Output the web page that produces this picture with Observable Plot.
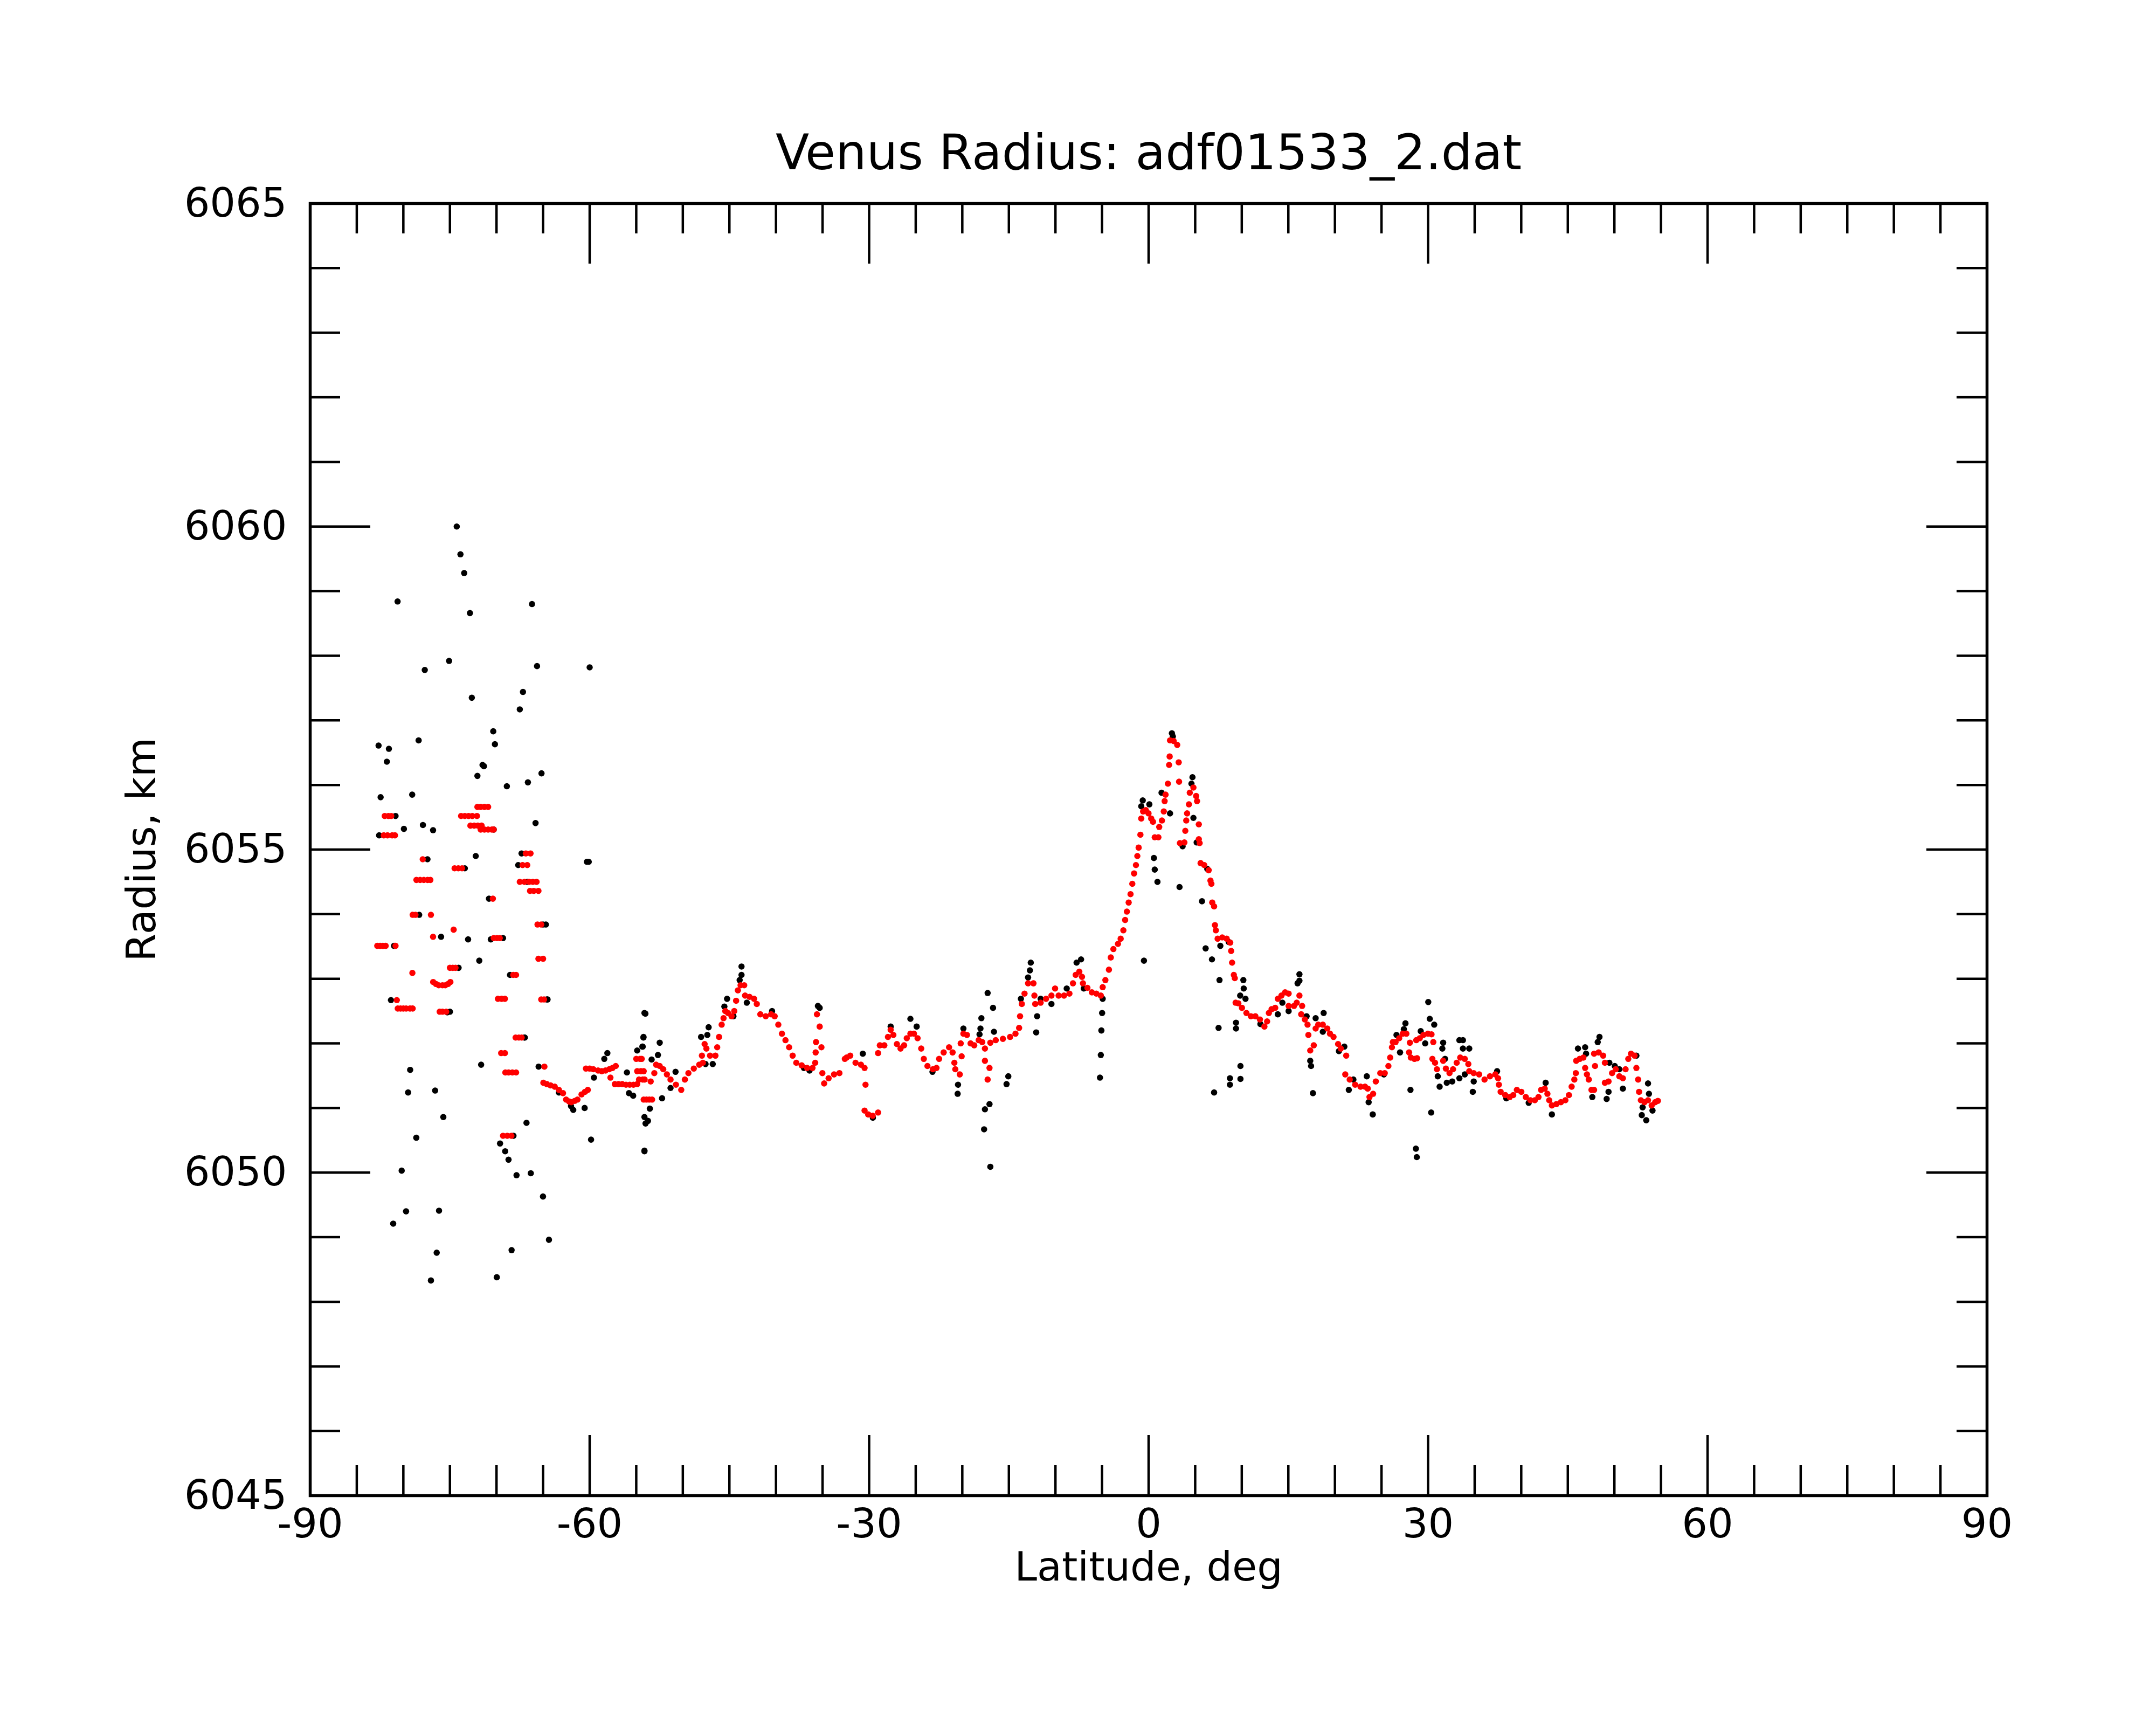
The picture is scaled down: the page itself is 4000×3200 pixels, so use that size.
<!DOCTYPE html>
<html>
<head>
<meta charset="utf-8">
<script src="https://cdn.jsdelivr.net/npm/d3@7"></script>
<script src="https://cdn.jsdelivr.net/npm/@observablehq/plot@0.6"></script>
<style>
  html, body { margin: 0; padding: 0; background: #ffffff; }
  svg { display: block; }
</style>
</head>
<body>
<div id="chart"></div>
<script>
// ---- text ----
const titleText = "Venus Radius: adf01533_2.dat";
const xLabel = "Latitude, deg";
const yLabel = "Radius, km";

// ---- ticks ----
const xMajor = [-90, -60, -30, 0, 30, 60, 90];
const xMinor = [-85,-80,-75,-70,-65,-55,-50,-45,-40,-35,-25,-20,-15,-10,-5,5,10,15,20,25,35,40,45,50,55,65,70,75,80,85];
const yMajor = [6045, 6050, 6055, 6060, 6065];
const yMinor = [6046,6047,6048,6049,6051,6052,6053,6054,6056,6057,6058,6059,6061,6062,6063,6064];

// ---- raw radius samples (black) [lat, radius] ----
const rawPoints = [
  [-74.27,6060.0],[-73.87,6059.57],[-73.47,6059.28],[-80.62,6058.84],[-72.85,6058.66],[-66.19,6058.8],
  [-75.09,6057.92],[-77.7,6057.78],[-65.65,6057.84],[-60.0,6057.82],[-72.65,6057.35],[-67.16,6057.44],
  [-67.5,6057.17],[-70.35,6056.83],[-70.17,6056.63],[-82.66,6056.61],[-81.55,6056.56],[-81.77,6056.36],
  [-78.36,6056.69],[-71.5,6056.31],[-71.35,6056.29],[-72.05,6056.14],[-68.89,6055.98],[-66.63,6056.04],[-65.17,6056.18],
  [-82.44,6055.81],[-79.05,6055.85],[-80.84,6055.52],[-79.94,6055.32],[-77.9,6055.38],[-76.81,6055.3],
  [-65.81,6055.41],[-72.23,6054.9],[-67.31,6054.94],[-67.67,6054.76],[-77.41,6054.85],[-60.3,6054.81],[-60.1,6054.81],
  [-70.81,6054.24],[-64.7,6053.84],[-75.95,6053.65],[-73.05,6053.61],[-70.61,6053.61],[-71.85,6053.28],
  [-74.07,6053.17],[-68.55,6053.06],[-81.33,6052.67],[-75.28,6052.48],[-64.52,6052.68],[-66.96,6052.09],
  [-79.27,6051.59],[-71.65,6051.67],[-65.48,6051.64],[-79.49,6051.24],[-76.59,6051.27],[-75.71,6050.86],
  [-66.78,6050.77],[-78.61,6050.54],[-59.85,6050.51],[-69.62,6050.45],[-69.07,6050.33],[-68.71,6050.2],
  [-68.18,6050.57],[-80.18,6050.03],[-67.85,6049.96],[-66.32,6049.99],[-65.01,6049.63],[-79.71,6049.4],
  [-76.17,6049.41],[-81.09,6049.21],[-64.37,6048.96],[-76.42,6048.76],[-68.38,6048.8],[-77.04,6048.33],
  [-69.97,6048.38],[-82.6,6055.22],[-81.0,6053.51],[-78.3,6053.99],[-75.0,6052.49],[-73.4,6054.71],
  [-70.3,6055.31],[-69.3,6053.63],[-67.0,6052.09],[-66.7,6054.5],[-65.0,6053.84],[-64.6,6052.68],
  [-58.1,6051.85],[-58.43,6051.76],[-59.54,6051.47],[-56.0,6051.55],[-55.33,6051.19],[-55.78,6051.23],
  [-60.54,6051.0],[-61.76,6050.97],[-62.0,6051.03],[-63.3,6051.24],[-54.12,6052.47],[-54.23,6052.09],[-54.34,6051.95],
  [-54.9,6051.89],[-54.12,6050.86],[-54.0,6050.76],[-54.12,6050.34],
  [-54.02,6052.46],[-54.22,6052.1],[-54.31,6051.95],[-53.35,6051.75],[-52.48,6052.01],[-52.67,6051.82],
  [-52.23,6051.15],[-53.54,6050.99],[-53.74,6050.8],[-54.12,6050.33],[-50.78,6051.56],[-51.32,6051.31],
  [-48.04,6052.1],[-47.23,6052.25],[-47.37,6052.13],[-47.56,6051.68],[-46.79,6051.68],[-45.25,6052.69],
  [-45.54,6052.57],[-44.57,6052.42],[-43.7,6053.19],[-43.7,6053.06],[-43.9,6052.98],[-43.13,6052.63],
  [-40.42,6052.5],[-35.31,6052.55],[-35.5,6052.58],[-36.4,6051.58],[-37.0,6051.62],
  [-30.68,6051.84],[-25.57,6052.38],[-24.9,6052.26],[-27.69,6052.26],[-20.46,6051.36],[-20.5,6051.22],
  [-19.88,6052.23],[-17.28,6052.78],[-16.7,6052.55],[-17.95,6052.39],[-18.05,6052.23],[-18.15,6052.14],
  [-16.6,6052.18],[-17.57,6050.98],[-17.08,6051.06],[-17.66,6050.67],[-16.99,6050.09],[-15.06,6051.49],
  [-15.25,6051.37],[-12.65,6053.25],[-12.74,6053.13],[-12.94,6053.02],[-11.97,6052.42],[-12.07,6052.17],
  [-11.59,6052.69],[-13.71,6052.69],[-29.6,6050.85],[-23.2,6051.56],
  [-10.43,6052.61],[-7.25,6053.3],[-7.73,6053.25],[-8.79,6052.85],[-6.96,6052.85],[-4.93,6052.69],
  [-4.99,6052.47],[-5.07,6052.2],[-5.13,6051.82],[-5.22,6051.47],[-0.5,6053.28],[-0.63,6055.76],
  [-0.79,6055.67],[0.08,6055.7],[0.57,6054.87],[0.66,6054.69],[0.95,6054.5],[1.39,6055.88],[2.3,6055.56],
  [2.5,6056.8],[2.6,6056.75],[3.32,6054.42],[3.65,6055.05],[4.71,6056.12],[4.6,6056.02],[4.81,6055.49],[5.16,6055.11],
  [5.73,6054.2],[6.12,6053.47],[6.8,6053.3],[7.61,6052.98],[7.51,6052.24],[7.03,6051.24],[7.7,6053.51],
  [8.73,6051.46],[8.73,6051.36],[9.86,6051.65],[9.86,6051.45],[9.38,6052.32],[9.38,6052.23],[9.83,6052.74],
  [10.17,6052.98],[10.21,6052.85],[10.4,6052.69],[6.3,6054.7],[8.6,6053.57],
  [16.19,6053.07],[16.19,6052.97],[15.99,6052.93],[13.87,6052.45],[14.36,6052.63],[15.03,6052.5],
  [16.96,6052.42],[17.93,6052.39],[18.79,6052.47],[18.7,6052.18],[17.35,6051.73],[17.44,6051.65],
  [17.64,6051.23],[21.01,6051.95],[20.43,6051.88],[21.49,6051.28],[21.98,6051.44],[23.42,6051.49],
  [23.62,6051.09],[24.06,6050.9],[25.26,6051.52],[26.61,6052.13],[26.99,6051.86],[27.57,6052.31],
  [28.11,6051.28],[28.69,6050.37],[28.79,6050.24],[30.02,6052.64],[30.18,6052.38],[30.66,6052.29],
  [29.21,6052.19],[29.69,6052.0],[30.33,6050.93],[31.62,6052.01],[31.53,6051.92],[31.82,6051.76],
  [31.04,6051.49],[31.24,6051.33],[32.01,6051.39],[32.59,6051.41],[33.36,6052.05],[33.36,6051.46],
  [27.4,6052.22],[12.0,6052.3],
  [33.74,6052.05],[33.74,6051.92],[34.42,6051.92],[33.94,6051.52],[34.9,6051.41],[34.8,6051.25],
  [37.41,6051.57],[42.62,6051.39],[43.29,6050.9],[46.09,6051.92],[46.86,6051.94],[46.96,6051.84],
  [48.4,6052.1],[48.21,6052.02],[49.46,6051.7],[50.04,6051.65],[50.53,6051.6],[47.63,6051.17],
  [49.17,6051.14],[49.37,6051.25],[50.91,6051.3],[52.36,6051.81],[53.61,6051.38],[53.71,6051.22],
  [53.03,6051.01],[52.94,6050.89],[53.42,6050.81],[54.09,6050.96],[40.8,6051.08],[38.4,6051.15]
];

// ---- filtered radius (red) [lat, radius] ----
const filteredPoints = [
  [-82.8,6053.51],[-82.5,6053.51],[-82.2,6053.51],[-81.9,6053.51],[-80.84,6053.51],
  [-82.0,6055.52],[-81.6,6055.52],[-81.3,6055.52],
  [-82.1,6055.22],[-81.7,6055.22],[-81.2,6055.22],[-80.9,6055.22],
  [-79.03,6053.09],
  [-80.6,6052.54],[-80.3,6052.54],[-80.0,6052.54],[-79.7,6052.54],[-79.3,6052.54],[-79.0,6052.54],
  [-80.7,6052.67],
  [-79.0,6053.99],[-78.7,6053.99],[-77.04,6053.99],
  [-78.6,6054.53],[-78.2,6054.53],[-77.8,6054.53],[-77.4,6054.53],[-77.1,6054.53],
  [-77.92,6054.85],[-76.81,6053.65],
  [-76.8,6052.95],[-76.5,6052.92],[-76.2,6052.9],[-75.8,6052.9],[-75.5,6052.9],[-75.2,6052.92],[-74.95,6052.95],
  [-76.1,6052.49],[-75.8,6052.49],[-75.4,6052.49],
  [-75.0,6053.17],[-74.7,6053.17],[-74.4,6053.17],
  [-74.6,6053.76],
  [-74.5,6054.71],[-74.1,6054.71],[-73.7,6054.71],
  [-73.8,6055.52],[-73.4,6055.52],[-73.0,6055.52],[-72.6,6055.52],[-72.1,6055.52],
  [-72.8,6055.37],[-72.4,6055.37],[-72.0,6055.37],[-71.6,6055.37],
  [-71.7,6055.31],[-71.3,6055.31],[-70.9,6055.31],[-70.5,6055.31],[-70.3,6055.31],
  [-72.05,6055.66],[-71.7,6055.66],[-71.3,6055.66],[-70.9,6055.66],
  [-70.39,6054.24],
  [-70.3,6053.63],[-69.95,6053.63],[-69.65,6053.63],
  [-69.85,6052.69],[-69.45,6052.69],[-69.1,6052.69],
  [-69.5,6051.85],[-69.1,6051.85],
  [-69.05,6051.55],[-68.7,6051.55],[-68.3,6051.55],[-67.9,6051.55],
  [-69.3,6050.57],[-68.85,6050.57],[-68.4,6050.57],
  [-68.2,6053.06],[-67.9,6053.06],
  [-67.95,6052.09],[-67.6,6052.09],[-67.3,6052.09],
  [-67.5,6054.5],[-67.0,6054.5],
  [-67.2,6054.76],[-66.7,6054.76],
  [-66.85,6054.94],[-66.35,6054.94],
  [-66.5,6054.5],[-66.1,6054.5],[-65.7,6054.5],
  [-66.4,6054.36],[-66.0,6054.36],[-65.5,6054.36],
  [-65.6,6053.84],[-65.2,6053.84],
  [-65.5,6053.31],[-65.0,6053.31],
  [-65.2,6052.68],[-64.9,6052.68],
  [-64.86,6051.64],
  [-64.97,6051.39],[-64.6,6051.37],[-64.2,6051.35],[-63.75,6051.33],[-63.3,6051.28],[-62.86,6051.23],
  [-62.53,6051.13],[-62.2,6051.1],[-61.98,6051.09],[-61.6,6051.11],[-61.31,6051.13],[-60.87,6051.21],
  [-60.5,6051.25],[-60.2,6051.28],
  [-60.4,6051.61],[-60.0,6051.61],[-59.6,6051.6],[-59.1,6051.58],[-58.7,6051.57],[-58.3,6051.58],
  [-57.9,6051.6],[-57.55,6051.62],[-57.2,6051.65],[-57.77,6051.47],
  [-57.3,6051.37],[-56.9,6051.37],[-56.5,6051.37],[-56.1,6051.36],[-55.7,6051.36],[-55.3,6051.36],[-54.9,6051.37],
  [-55.0,6051.76],[-54.6,6051.76],[-54.9,6051.57],[-54.5,6051.57],[-54.7,6051.44],[-54.3,6051.44],
  [-54.41,6051.76],[-54.2,6051.57],[-54.1,6051.44],
  [-54.2,6051.13],[-53.9,6051.13],[-53.6,6051.13],[-53.3,6051.13],
  [-53.45,6051.41],[-53.06,6051.54],[-52.87,6051.67],[-52.48,6051.65],[-52.1,6051.6],[-51.71,6051.52],
  [-51.32,6051.44],[-50.74,6051.36],[-50.17,6051.28],[-49.78,6051.44],[-49.4,6051.54],[-48.82,6051.61],
  [-48.24,6051.67],[-47.85,6051.7],[-47.95,6051.81],[-47.66,6051.99],[-47.47,6051.92],[-47.08,6051.81],
  [-46.5,6051.81],[-46.31,6051.94],[-46.11,6052.1],[-45.83,6052.29],[-45.63,6052.39],[-45.44,6052.5],
  [-45.15,6052.47],[-44.77,6052.42],[-44.48,6052.5],[-44.28,6052.66],[-44.09,6052.82],[-43.8,6052.9],
  [-43.41,6052.9],[-43.32,6052.74],[-42.84,6052.72],[-42.35,6052.69],[-42.06,6052.61],[-41.68,6052.45],
  [-41.1,6052.42],[-40.52,6052.45],[-40.14,6052.42],[-39.75,6052.29],[-39.36,6052.15],[-38.98,6052.05],
  [-38.59,6051.94],[-38.21,6051.81],[-37.82,6051.7],[-37.24,6051.66],[-36.66,6051.62],[-36.08,6051.62],
  [-35.79,6051.7],[-35.6,6052.45],[-35.31,6052.26],[-35.12,6051.94],[-35.7,6052.02],[-35.74,6051.86],
  [-35.02,6051.54],[-34.83,6051.38],[-34.35,6051.46],[-33.77,6051.52],[-33.19,6051.54],[-32.61,6051.76],
  [-32.42,6051.78],[-32.03,6051.81],[-31.46,6051.7],[-30.88,6051.67],[-30.49,6051.62],[-30.39,6051.36],
  [-30.49,6050.96],[-30.1,6050.9],[-29.62,6050.88],[-29.04,6050.93],[-29.04,6051.85],[-28.85,6051.97],
  [-28.37,6051.97],[-27.98,6052.1],[-27.69,6052.21],[-27.4,6052.13],[-27.02,6051.99],[-26.63,6051.92],
  [-26.25,6051.97],[-25.96,6052.08],[-25.57,6052.15],[-25.19,6052.15],[-24.8,6052.08],[-24.41,6051.92],
  [-24.13,6051.76],[-23.74,6051.65],[-23.16,6051.6],[-22.77,6051.62],[-22.49,6051.76],[-22.0,6051.86],
  [-21.42,6051.94],[-21.04,6051.86],[-20.85,6051.7],[-20.75,6051.6],[-20.27,6051.52],[-20.07,6051.8],
  [-20.17,6052.0],[-19.88,6052.15],[-19.5,6052.13],[-19.11,6052.0],[-18.72,6051.97],[-18.24,6052.05],
  [-17.86,6052.02],[-17.57,6051.92],[-17.57,6051.73],[-17.08,6051.62],[-17.28,6051.44],[-16.99,6052.01],
  [-16.41,6052.05],[-15.64,6052.07],[-14.87,6052.1],[-14.29,6052.15],[-13.9,6052.24],[-13.8,6052.42],
  [-13.61,6052.61],[-13.32,6052.77],[-12.94,6052.93],[-12.36,6052.93],[-12.26,6052.74],[-12.17,6052.61],
  [-11.59,6052.63],[-11.01,6052.69],[-10.43,6052.74],
  [-10.04,6052.85],[-9.66,6052.74],[-9.08,6052.74],[-8.5,6052.77],[-8.12,6052.93],[-7.83,6053.06],
  [-7.44,6053.11],[-7.15,6053.03],[-7.05,6052.93],[-6.57,6052.86],[-6.09,6052.79],[-5.61,6052.77],
  [-5.13,6052.74],[-4.93,6052.87],[-4.64,6052.98],[-4.26,6053.14],[-4.06,6053.33],[-3.78,6053.46],
  [-3.29,6053.54],[-3.0,6053.62],[-2.71,6053.75],[-2.52,6053.91],[-2.33,6054.04],[-2.14,6054.18],
  [-1.94,6054.31],[-1.75,6054.47],[-1.56,6054.63],[-1.36,6054.76],[-1.21,6054.9],[-1.07,6055.03],
  [-0.88,6055.23],[-0.79,6055.48],[-0.59,6055.59],[-0.3,6055.61],[-0.01,6055.56],[0.28,6055.48],
  [0.47,6055.43],[0.66,6055.19],[1.05,6055.19],[1.14,6055.35],[1.43,6055.45],[1.63,6055.59],
  [1.72,6055.75],[1.82,6055.85],[2.07,6056.02],[2.2,6056.31],[2.26,6056.44],[2.3,6056.69],[2.69,6056.68],
  [3.07,6056.62],[3.23,6056.35],[3.27,6056.05],[3.36,6055.1],[3.84,6055.11],[3.94,6055.29],[4.04,6055.45],
  [4.13,6055.56],[4.33,6055.7],[4.42,6055.88],[4.81,6055.96],[5.1,6055.83],[5.2,6055.75],[5.39,6055.39],
  [5.39,6055.16],[5.48,6055.1],[5.58,6054.79],[5.97,6054.76],[6.45,6054.68],[6.64,6054.52],[6.74,6054.47],
  [6.83,6054.18],[7.03,6054.12],[7.12,6053.83],[7.22,6053.75],[7.41,6053.62],[7.9,6053.64],[8.38,6053.62],
  [8.76,6053.56],[8.86,6053.43],[8.96,6053.25],[9.15,6053.06],[9.25,6053.01],[9.34,6052.63],[9.63,6052.62],
  [10.02,6052.55],[10.5,6052.47],[10.98,6052.42],[11.46,6052.42],
  [11.95,6052.37],[12.43,6052.26],[12.72,6052.34],[12.91,6052.47],[13.2,6052.53],[13.59,6052.55],
  [13.87,6052.69],[14.26,6052.74],[14.65,6052.79],[15.03,6052.77],[15.03,6052.58],[15.61,6052.58],
  [15.9,6052.63],[16.19,6052.74],[16.48,6052.58],[16.38,6052.45],[16.77,6052.37],[17.06,6052.29],
  [17.15,6052.13],[17.35,6051.89],[17.73,6051.97],[17.93,6052.23],[18.21,6052.29],[18.7,6052.29],
  [19.18,6052.23],[19.47,6052.15],[19.85,6052.1],[20.34,6051.99],[20.63,6051.92],[21.21,6051.81],
  [21.11,6051.52],[21.59,6051.44],[22.17,6051.36],[22.75,6051.33],[23.23,6051.33],[23.52,6051.3],
  [23.71,6051.17],[24.1,6051.22],[24.39,6051.41],[24.87,6051.54],[25.35,6051.54],[25.74,6051.65],
  [25.93,6051.78],[26.12,6051.94],[26.22,6052.02],[26.51,6052.02],[26.9,6052.08],[27.28,6052.15],
  [27.67,6052.15],[28.05,6052.01],[27.96,6051.86],[28.15,6051.78],[28.54,6051.76],[28.82,6051.77],
  [28.73,6052.05],[29.11,6052.08],[29.5,6052.13],[29.98,6052.15],[30.37,6052.14],[30.56,6052.02],
  [30.46,6051.76],[30.75,6051.7],[30.95,6051.6],[31.62,6051.73],[31.91,6051.61],[32.3,6051.54],
  [32.68,6051.6],[33.07,6051.7],[33.45,6051.78],
  [33.94,6051.76],[34.32,6051.68],[34.42,6051.57],[34.9,6051.54],[35.48,6051.52],[36.06,6051.44],
  [36.64,6051.49],[37.22,6051.52],[37.51,6051.46],[37.6,6051.36],[37.79,6051.25],[38.28,6051.2],
  [38.76,6051.17],[39.14,6051.2],[39.53,6051.28],[40.01,6051.25],[40.49,6051.17],[40.98,6051.12],
  [41.46,6051.12],[41.85,6051.17],[42.13,6051.28],[42.52,6051.3],[42.81,6051.22],[43.0,6051.12],
  [43.29,6051.04],[43.77,6051.06],[44.26,6051.09],[44.74,6051.12],[45.12,6051.2],[45.41,6051.33],
  [45.7,6051.44],[45.86,6051.54],[45.9,6051.73],[46.28,6051.76],[46.67,6051.78],[46.86,6051.62],
  [47.05,6051.52],[47.25,6051.44],[47.54,6051.28],[47.82,6051.28],[47.92,6051.65],[47.82,6051.84],
  [48.31,6051.86],[48.79,6051.81],[48.98,6051.7],[48.98,6051.39],[49.37,6051.41],[49.75,6051.54],
  [50.14,6051.6],[50.53,6051.49],[50.91,6051.46],[51.2,6051.6],[51.49,6051.76],[51.78,6051.84],
  [52.17,6051.81],[52.36,6051.62],[52.55,6051.44],[52.65,6051.25],[52.84,6051.12],[53.23,6051.09],
  [53.61,6051.12],[54.0,6051.04],[54.38,6051.09],[54.67,6051.11]
];

const W = 4000, H = 3200;
const mL = 575, mR = 314, mT = 377, mB = 426;
const frameW = W - mL - mR, frameH = H - mT - mB;
const majorLen = 112, minorLen = 56, tickW = 4.5;
const dotR = 5.8;

const chart = Plot.plot({
  width: W,
  height: H,
  marginLeft: mL,
  marginRight: mR,
  marginTop: mT,
  marginBottom: mB,
  style: {fontFamily: "DejaVu Sans", background: "#ffffff", color: "#000000"},
  x: {domain: [-90, 90]},
  y: {domain: [6045, 6065]},
  marks: [
    // data
    Plot.dot(rawPoints, {x: d => d[0], y: d => d[1], r: dotR, fill: "#000000", stroke: "none"}),
    Plot.dot(filteredPoints, {x: d => d[0], y: d => d[1], r: dotR, fill: "#ff0000", stroke: "none"}),
    // inward ticks, bottom & top
    Plot.tickX(xMajor, {x: d => d, insetTop: frameH - majorLen, stroke: "#000", strokeWidth: tickW}),
    Plot.tickX(xMajor, {x: d => d, insetBottom: frameH - majorLen, stroke: "#000", strokeWidth: tickW}),
    Plot.tickX(xMinor, {x: d => d, insetTop: frameH - minorLen, stroke: "#000", strokeWidth: tickW}),
    Plot.tickX(xMinor, {x: d => d, insetBottom: frameH - minorLen, stroke: "#000", strokeWidth: tickW}),
    // inward ticks, left & right
    Plot.tickY(yMajor, {y: d => d, insetRight: frameW - majorLen, stroke: "#000", strokeWidth: tickW}),
    Plot.tickY(yMajor, {y: d => d, insetLeft: frameW - majorLen, stroke: "#000", strokeWidth: tickW}),
    Plot.tickY(yMinor, {y: d => d, insetRight: frameW - minorLen, stroke: "#000", strokeWidth: tickW}),
    Plot.tickY(yMinor, {y: d => d, insetLeft: frameW - minorLen, stroke: "#000", strokeWidth: tickW}),
    Plot.frame({stroke: "#000", strokeWidth: 5.5}),
    // tick labels
    Plot.axisX({ticks: xMajor, tickSize: 0, tickPadding: 24, fontSize: 75, tickFormat: d => String(d), label: null}),
    Plot.axisY({ticks: yMajor, tickSize: 0, tickPadding: 43, fontSize: 75, tickFormat: d => String(d), label: null}),
    // titles
    Plot.text([titleText], {frameAnchor: "top", dy: -128, fontSize: 91, fill: "#000", textAnchor: "middle"}),
    Plot.text([xLabel], {frameAnchor: "bottom", dy: 157, fontSize: 75, fill: "#000", textAnchor: "middle"}),
    Plot.text([yLabel], {frameAnchor: "left", dx: -312, rotate: -90, fontSize: 75, fill: "#000", textAnchor: "middle"})
  ]
});
document.getElementById("chart").appendChild(chart);
</script>
</body>
</html>
